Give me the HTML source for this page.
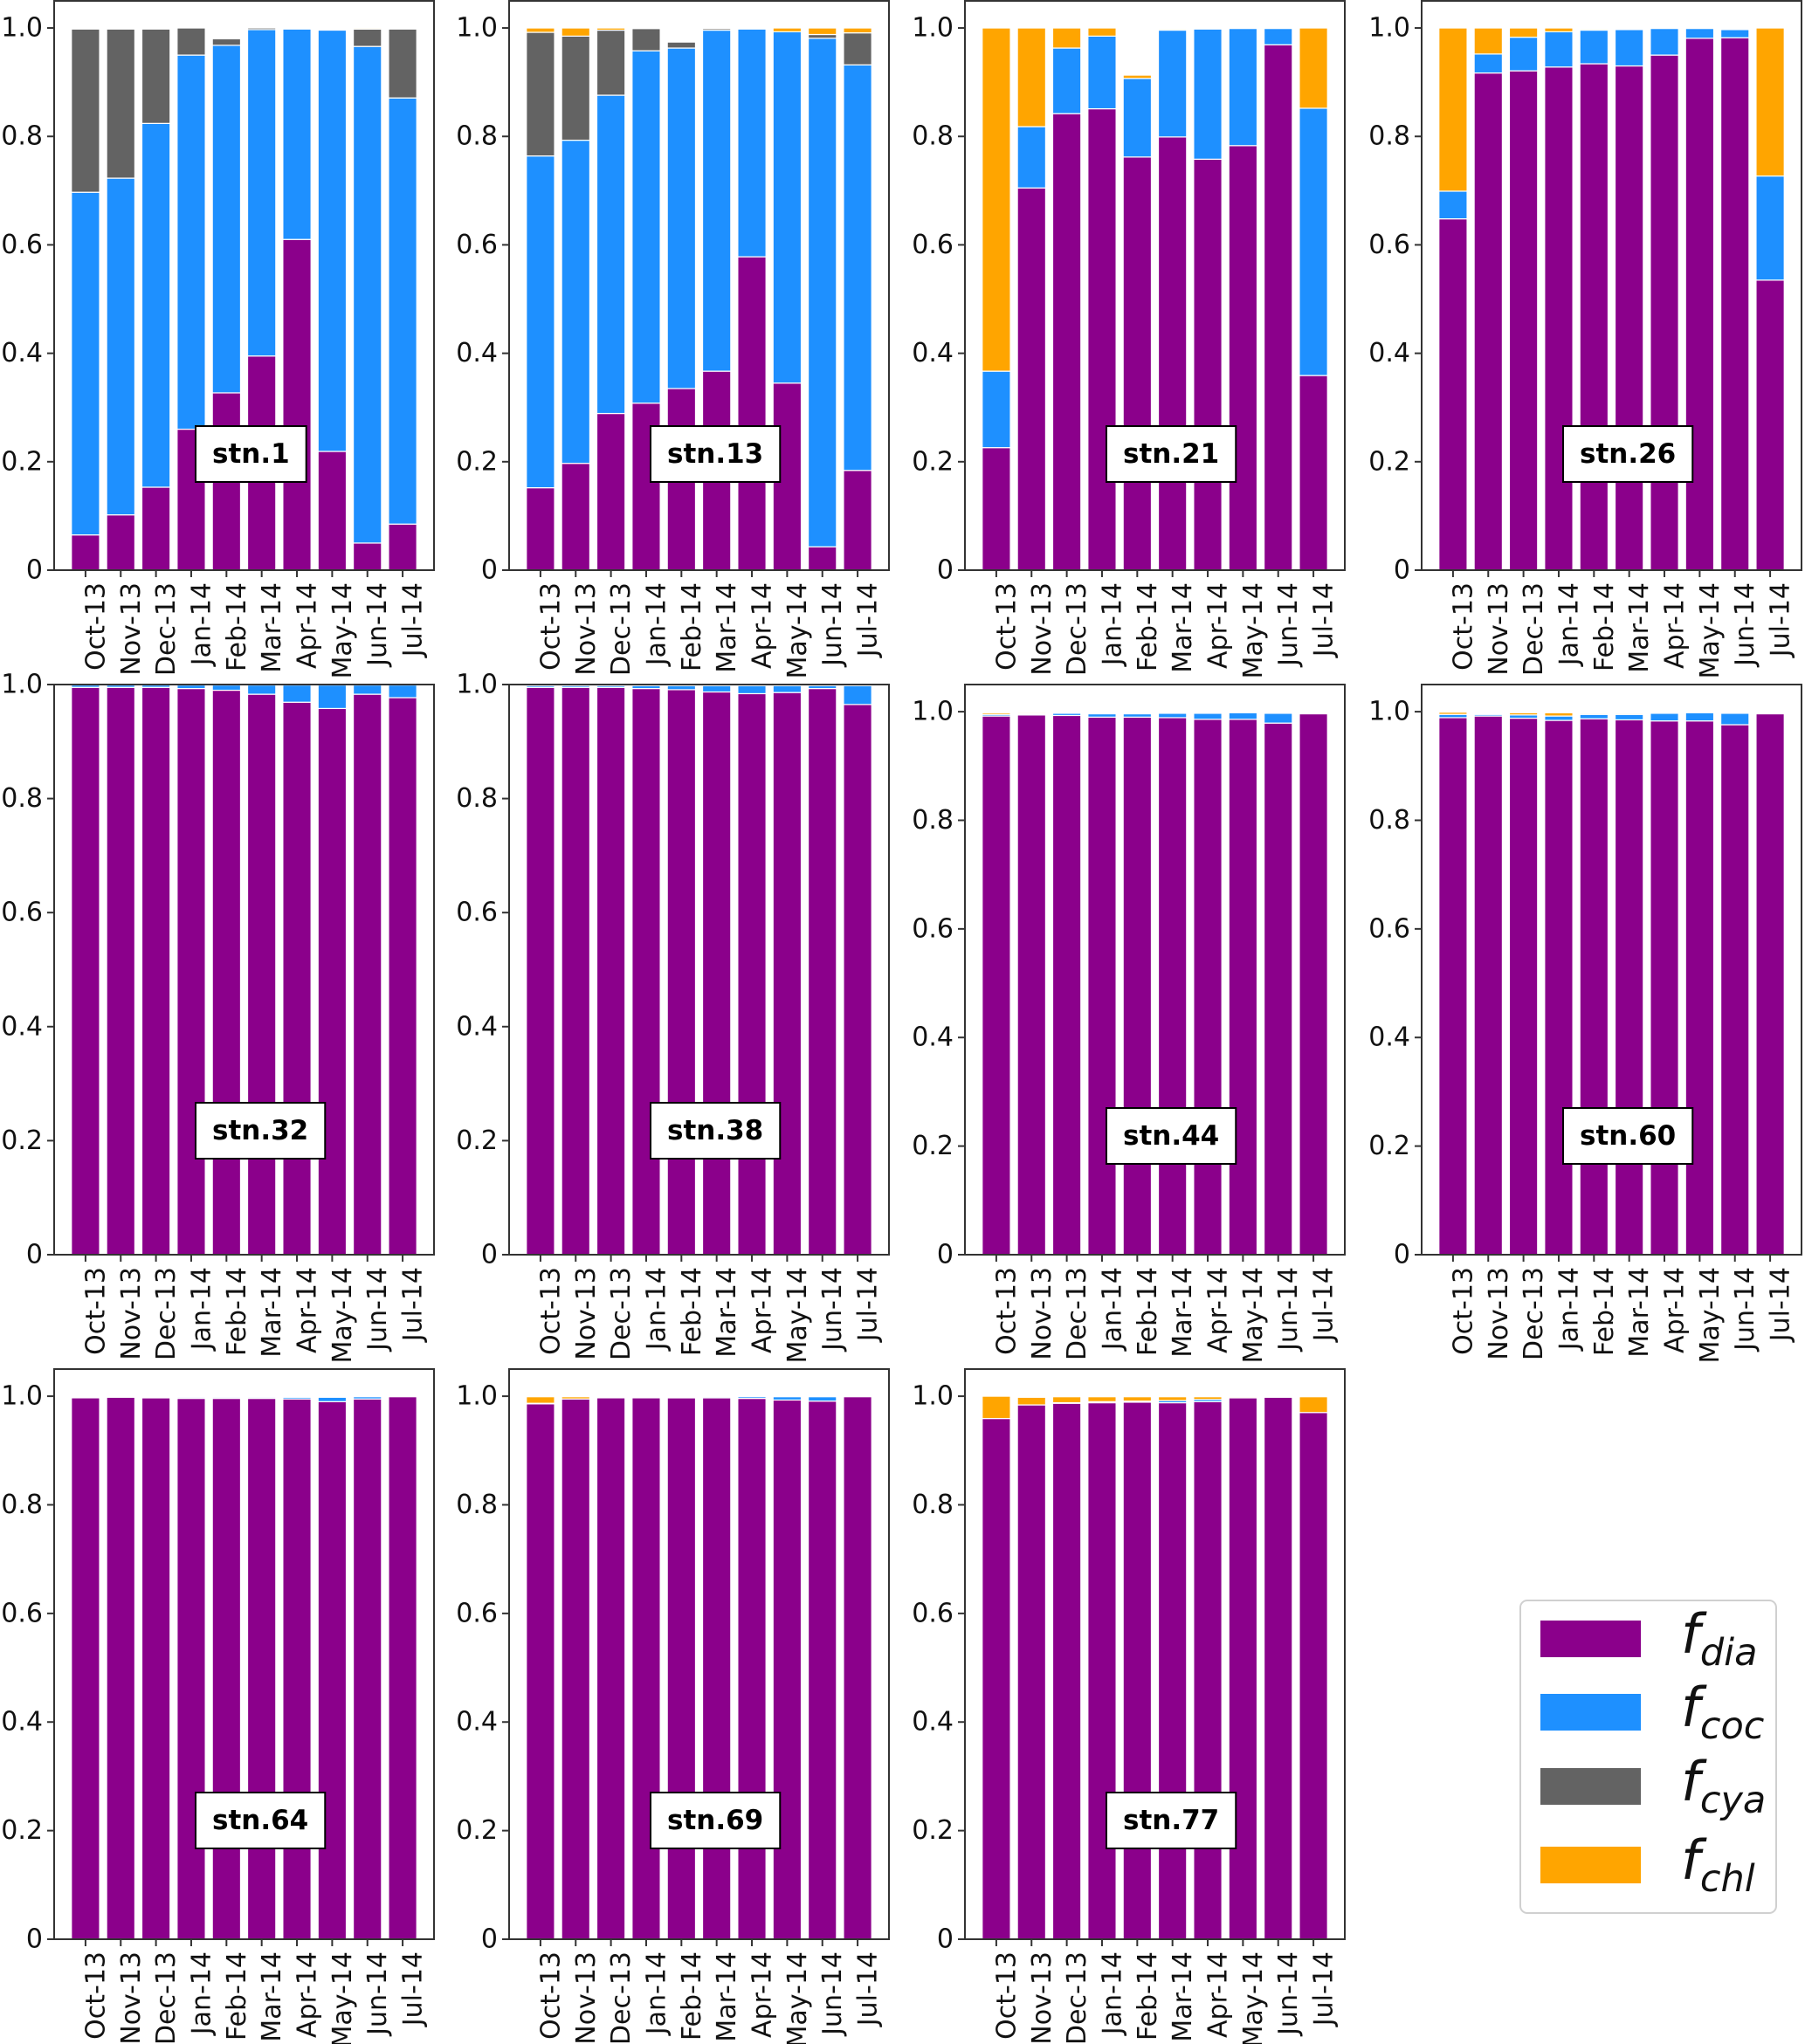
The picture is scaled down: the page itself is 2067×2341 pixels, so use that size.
<!DOCTYPE html>
<html><head><meta charset="utf-8"><title>Stacked fractions by station</title>
<style>
html,body{margin:0;padding:0;background:#fff;}
svg{display:block;font-family:"DejaVu Sans","Liberation Sans",sans-serif;}
</style></head>
<body>
<svg id="fig" width="2067" height="2341" viewBox="0 0 2067 2341" xmlns="http://www.w3.org/2000/svg"></svg>
<script>
const months = ["Oct-13","Nov-13","Dec-13","Jan-14","Feb-14","Mar-14","Apr-14","May-14","Jun-14","Jul-14"];
const stations = ["stn.1","stn.13","stn.21","stn.26","stn.32","stn.38","stn.44","stn.60","stn.64","stn.69","stn.77"];
const yTicks = [0,0.2,0.4,0.6,0.8,1.0];
const yTickLabels = ["0","0.2","0.4","0.6","0.8","1.0"];
const yMaxes = [1.05,1.05,1.05,1.05,1.0,1.0,1.05,1.05,1.05,1.05,1.05];
const dia = [
 [0.065,0.102,0.153,0.26,0.327,0.395,0.61,0.219,0.05,0.085],
 [0.152,0.197,0.289,0.308,0.335,0.367,0.578,0.345,0.043,0.184],
 [0.226,0.705,0.842,0.851,0.762,0.799,0.758,0.783,0.969,0.359],
 [0.648,0.917,0.921,0.928,0.934,0.930,0.950,0.981,0.982,0.535],
 [0.995,0.995,0.995,0.993,0.990,0.983,0.969,0.958,0.983,0.977],
 [0.995,0.995,0.995,0.993,0.991,0.987,0.984,0.986,0.993,0.965],
 [0.992,0.994,0.993,0.990,0.990,0.989,0.986,0.986,0.979,0.996],
 [0.989,0.992,0.988,0.984,0.987,0.985,0.983,0.983,0.976,0.996],
 [0.997,0.998,0.997,0.996,0.996,0.996,0.995,0.990,0.995,0.999],
 [0.986,0.995,0.997,0.997,0.997,0.997,0.996,0.993,0.991,0.999],
 [0.959,0.984,0.987,0.988,0.989,0.988,0.990,0.997,0.998,0.970]
];
const coc = [
 [0.632,0.621,0.671,0.69,0.641,0.602,0.388,0.777,0.916,0.786],
 [0.612,0.596,0.587,0.65,0.628,0.629,0.42,0.648,0.938,0.748],
 [0.141,0.113,0.121,0.134,0.145,0.197,0.24,0.216,0.03,0.493],
 [0.051,0.035,0.062,0.065,0.062,0.067,0.049,0.018,0.015,0.192],
 [0.004,0.004,0.004,0.006,0.009,0.016,0.030,0.041,0.016,0.022],
 [0.003,0.003,0.003,0.005,0.007,0.011,0.014,0.012,0.005,0.033],
 [0.003,0.002,0.004,0.006,0.006,0.008,0.011,0.012,0.018,0],
 [0.006,0.003,0.006,0.008,0.008,0.010,0.014,0.015,0.021,0],
 [0,0,0.001,0.002,0.002,0.002,0.003,0.008,0.004,0],
 [0.001,0,0,0,0.001,0.002,0.003,0.006,0.008,0],
 [0,0,0.001,0.002,0.002,0.004,0.004,0,0,0]
];
const cya = [
 [0.301,0.275,0.174,0.05,0.012,0.003,0,0,0.032,0.127],
 [0.228,0.192,0.12,0.041,0.011,0.003,0,0,0.007,0.059],
 [0,0,0,0,0,0,0,0,0,0],
 [0,0,0,0,0,0,0,0,0,0],
 [0,0,0,0,0,0,0,0,0,0],
 [0,0,0,0,0,0,0,0,0,0],
 [0,0,0,0,0,0,0,0,0,0],
 [0,0,0,0,0,0,0,0,0,0],
 [0,0,0,0,0,0,0,0,0,0],
 [0,0,0,0,0,0,0,0,0,0],
 [0,0,0,0,0,0,0,0,0,0]
];
const chl = [
 [0,0,0,0,0,0,0,0,0.002,0],
 [0.008,0.015,0.004,0.001,0,0.001,0,0.007,0.012,0.009],
 [0.633,0.182,0.037,0.015,0.006,0.002,0,0,0,0.148],
 [0.301,0.048,0.017,0.007,0.002,0,0,0,0,0.273],
 [0,0,0,0,0,0,0,0,0,0],
 [0,0,0,0,0,0,0,0,0,0],
 [0.003,0.002,0,0,0,0,0,0,0,0],
 [0.004,0.001,0.004,0.006,0.002,0.002,0,0,0,0],
 [0,0,0,0,0,0,0,0,0,0],
 [0.012,0.004,0,0,0,0,0,0,0,0],
 [0.041,0.014,0.011,0.009,0.008,0.007,0.005,0.002,0,0.029]
];
const seriesNames = ["dia","coc","cya","chl"];
const seriesData = [dia,coc,cya,chl];
const colors = ["#8b008b","#1e90ff","#636363","#ffa500"];

const NS = "http://www.w3.org/2000/svg";
const svg = document.getElementById("fig");
function mk(tag, attrs, parent){
  const e = document.createElementNS(NS, tag);
  for (const k in attrs) e.setAttribute(k, attrs[k]);
  (parent||svg).appendChild(e);
  return e;
}
const colLefts = [62,583,1105,1628];
const rowTops = [1,784,1568];
const rowBottoms = [653,1437,2221];
const W = 435;
const boxOffsets = [133,133,133,133,142,142,136,136,136,136,136];

stations.forEach((st, p) => {
  const r = Math.floor(p/4), c = p%4;
  const L = colLefts[c], T = rowTops[r], B = rowBottoms[r];
  const ymax = yMaxes[p];
  const g = mk("g", {});
  
  
  const xs = i => L + (i + 0.89) * (W / 10.78);
  const ys = v => B - v / ymax * (B - T);
  const bw = 0.8 * W / 10.78;
  months.forEach((m, i) => {
    let cum = 0;
    seriesData.forEach((arr, s) => {
      const v = arr[p][i];
      if (v <= 0) return;
      const y0 = ys(cum), y1 = ys(cum + v);
      const rect = mk("rect", {x: xs(i) - bw/2, y: y1, width: bw, height: Math.max(0.5, y0 - y1), fill: colors[s], stroke: "#fff", "stroke-width": 1.2}, g);
      
      
      cum += v;
    });
  });
  const fr = mk("rect", {x: L, y: T, width: W, height: B - T, fill: "none", stroke: "#333", "stroke-width": 2}, g);
  
  
  yTicks.forEach((t, k) => {
    const y = ys(t);
    mk("line", {x1: L - 8, x2: L, y1: y, y2: y, stroke: "#333", "stroke-width": 2}, g);
    const tx = mk("text", {x: L - 13, y: y, "text-anchor": "end", "dominant-baseline": "central", "font-size": 30, fill: "#111"}, g);
    tx.textContent = yTickLabels[k];
    
    
  });
  months.forEach((m, i) => {
    const x = xs(i);
    mk("line", {x1: x, x2: x, y1: B, y2: B + 8, stroke: "#333", "stroke-width": 2}, g);
    const tx = mk("text", {x: 0, y: 0, "text-anchor": "end", "dominant-baseline": "central", "font-size": 30, fill: "#111", transform: `translate(${x + 12},${B + 14}) rotate(-90)`}, g);
    tx.textContent = m;
    
    
  });
  const cy = B - boxOffsets[p];
  const bx = L + 162;
  const box = mk("rect", {x: bx, y: cy - 32, width: 100, height: 64, fill: "#fff", stroke: "#000", "stroke-width": 2}, g);
  
  
  const lt = mk("text", {x: bx + 19, y: cy, "dominant-baseline": "central", "font-size": 31, "font-weight": "bold", fill: "#000"}, g);
  lt.textContent = st;
  
  
  box.setAttribute("width", lt.getComputedTextLength() + 38);
});

const lg = mk("g", {});


mk("rect", {x: 1741, y: 1833, width: 293, height: 358, rx: 8, fill: "#fff", stroke: "#d0d0d0", "stroke-width": 2}, lg);
const legendCenters = [1877, 1961, 2046, 2136];
seriesNames.forEach((n, s) => {
  const e = mk("g", {}, lg);
  
  
  const cyy = legendCenters[s];
  mk("rect", {x: 1764, y: cyy - 21, width: 115, height: 42, fill: colors[s]}, e);
  const t = mk("text", {x: 1925, y: cyy + 16, "font-size": 62, "font-style": "italic", fill: "#111"}, e);
  const f = mk("tspan", {}, t); f.textContent = "f";
  const sub = mk("tspan", {dy: 14, "font-size": 43}, t); sub.textContent = n;
});
</script>
</body></html>
